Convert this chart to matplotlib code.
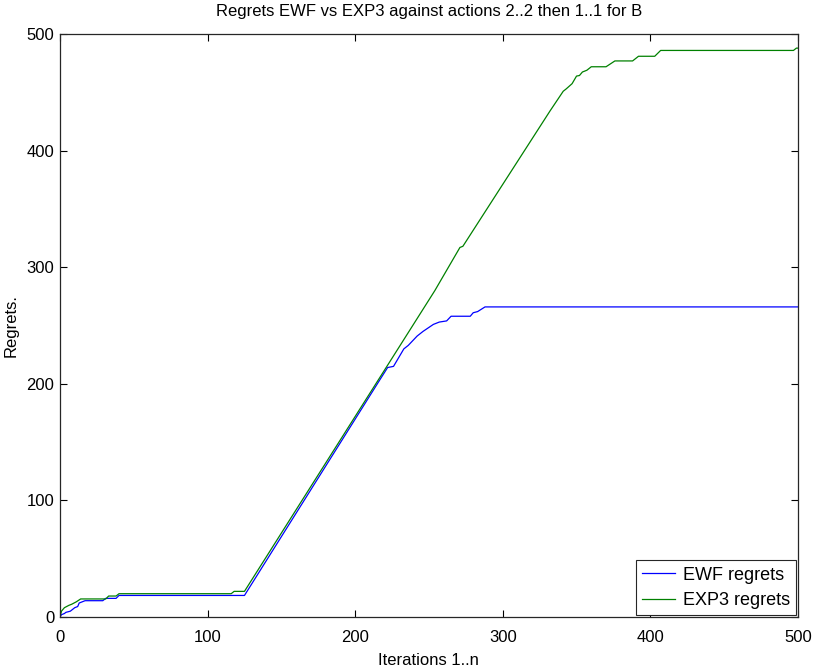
"""
Regrets EWF vs EXP3 (actions 2..2 then 1..1, player B)
"""

import matplotlib
matplotlib.use('Agg')
import matplotlib.pyplot as plt

#---------------------------------------------------------------------------------------------------
# Data (breakpoints)
#---------------------------------------------------------------------------------------------------

ewf_x = [0, 1, 3, 4, 7, 8, 10, 12, 13, 17, 29, 31, 38, 40, 125,
         217, 222, 226, 233, 236, 242, 246, 253, 257, 262, 265, 278, 280, 283, 288, 500]
ewf_y = [0, 2, 3, 4, 5, 6, 8, 9, 12, 14, 14, 16, 16, 18.5, 18.5,
         204, 214, 215, 230, 233, 241, 245, 251, 253, 254, 258, 258, 261, 262, 266, 266]

exp3_x = [0, 1, 3, 6, 8, 11, 14, 31, 33, 38, 40, 116, 118, 125,
          216, 254, 271, 273, 332, 341, 343, 347, 350, 352, 354, 357, 360, 370, 376, 388,
          392, 403, 407, 497, 499, 500]
exp3_y = [0, 5, 8, 10, 11, 13, 15.5, 15.5, 18, 18, 20, 20, 22, 22,
          204, 280, 317, 318, 434, 451, 453, 457.5, 464, 464.5, 467.5, 469, 472, 472, 477, 477,
          481, 481, 486, 486, 488, 488]

#---------------------------------------------------------------------------------------------------
# Plot
#---------------------------------------------------------------------------------------------------

plt.rcParams['font.family'] = ['Liberation Sans', 'DejaVu Sans']
fontsize = 12

fig = plt.figure(figsize=(8.15, 6.69), dpi=100)
ax = fig.add_axes([0.0736, 0.0777, 0.9054, 0.8713])

ax.plot(ewf_x, ewf_y, color='#0000ff', lw=0.9, label='EWF regrets')
ax.plot(exp3_x, exp3_y, color='#008000', lw=0.9, label='EXP3 regrets')

ax.set_xlim(0, 500)
ax.set_ylim(0, 500)
ax.set_xticks([0, 100, 200, 300, 400, 500])
ax.set_yticks([0, 100, 200, 300, 400, 500])
ax.tick_params(direction='in', length=5, width=0.8, top=True, right=True,
               labelsize=fontsize, colors='black', pad=4)
ax.tick_params(axis='x', pad=9)
for sp in ax.spines.values():
    sp.set_linewidth(0.9)
    sp.set_color('#262626')

ax.set_title('Regrets EWF vs EXP3 against actions 2..2 then 1..1 for B', size=fontsize, pad=13)
ax.set_xlabel('Iterations 1..n', size=fontsize, labelpad=6)
ax.set_ylabel('Regrets.', size=fontsize, labelpad=6)

leg = ax.legend(loc='lower right', fontsize=13, fancybox=False, framealpha=1,
                edgecolor='#262626', borderaxespad=0.1, handlelength=1.8, handletextpad=0.45,
                borderpad=0.35, labelspacing=0.45)
leg.get_frame().set_linewidth(0.8)

plt.savefig('out.png', dpi=100)
plt.close()
